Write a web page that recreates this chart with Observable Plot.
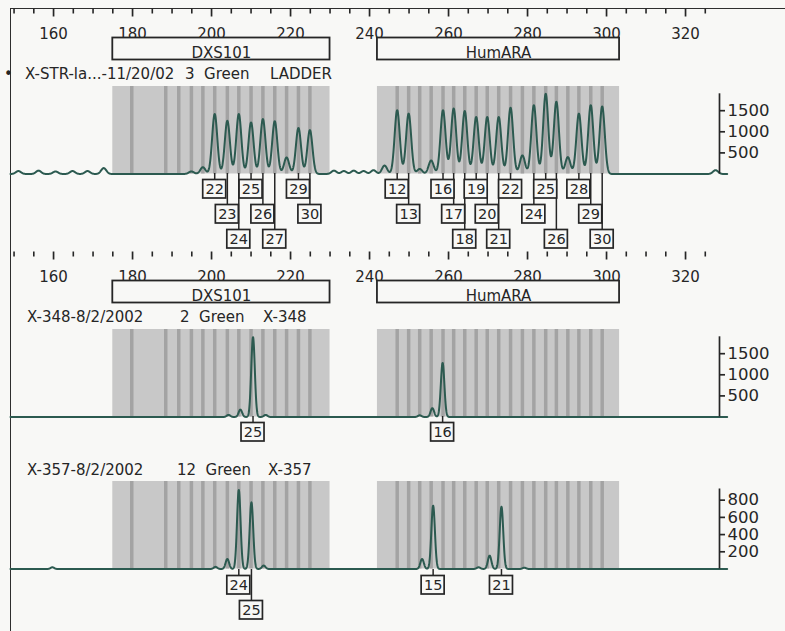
<!DOCTYPE html>
<html><head><meta charset="utf-8">
<script src="https://cdn.jsdelivr.net/npm/d3@7"></script>
<script src="https://cdn.jsdelivr.net/npm/@observablehq/plot@0.6"></script>
<style>
html,body{margin:0;padding:0;background:#f8f8f6;}
#chart{position:relative;width:785px;height:631px;overflow:hidden;font-family:"DejaVu Sans",sans-serif;color:#262626;}
#chart svg{position:absolute;left:0;}
.frame{position:absolute;left:9.5px;top:7.5px;width:790px;height:640px;border-left:1.6px solid #2e2e2e;border-top:1.6px solid #2e2e2e;}
.sample{position:absolute;font-size:15px;line-height:15px;white-space:pre;color:#262626;}
</style></head><body><div id="chart"><div class="frame"></div></div>
<script>
// ---------- data ----------
const xTickLabels = [160,180,200,220,240,260,280,300,320];
const xTickMinor = [150,155,165,170,175,185,190,195,205,210,215,225,230,235,245,250,255,265,270,275,285,290,295,305,310,315,325];

const locusName  = ["DXS101","HumARA"];
const locusStart = [175, 242];
const locusEnd   = [230, 303.3];

const dxs101Bins = [179.8,188.4,191.7,194.9,197.8,200.8,204.0,206.9,210.0,213.0,216.0,219.0,222.0,224.9];
const humaraBins = [247.0,249.9,252.7,255.6,258.6,261.3,264.1,267.0,269.8,272.7,275.7,278.7,281.6,284.6,287.3,290.2,293.0,296.0,298.9];

// Panel 1: allelic ladder
const ladderPeakSize   = [151.1,156.2,160.5,164.8,168.6,172.7,194.9,197.8,200.8,204.0,206.9,210.0,213.0,216.0,219.0,222.0,224.9,231.0,233.5,236.0,238.5,241.0,243.8,247.0,249.9,252.7,255.6,258.6,261.3,264.1,267.0,269.8,272.7,275.7,278.7,281.6,284.6,287.3,290.2,293.0,296.0,298.9,327.6];
const ladderPeakHeight = [70,80,60,70,70,140,60,160,1420,1260,1420,1220,1300,1250,390,1090,1040,80,70,80,70,90,200,1510,1430,120,320,1510,1550,1490,1350,1350,1350,1570,440,1630,1900,1710,400,1430,1630,1600,90];
const ladderCallAllele = ["22","23","24","25","26","27","29","30","12","13","16","17","18","19","20","21","22","24","25","26","28","29","30"];
const ladderCallSize   = [200.8,204.0,206.9,210.0,213.0,216.0,222.0,224.9,247.0,249.9,258.6,261.3,264.1,267.0,269.8,272.7,275.7,281.6,284.6,287.3,293.0,296.0,298.9];

// Panel 2: X-348
const x348PeakSize   = [204.3,207.3,210.5,213.7,252.7,255.9,258.5];
const x348PeakHeight = [50,175,1890,50,40,210,1280];
const x348CallAllele = ["25","16"];
const x348CallSize   = [210.5,258.5];

// Panel 3: X-357
const x357PeakSize   = [159.7,201.0,204.0,206.9,210.1,213.2,253.3,256.1,267.6,270.4,273.4,279.2];
const x357PeakHeight = [20,25,116,918,774,40,116,736,20,155,724,15];
const x357CallAllele = ["24","25","15","21"];
const x357CallSize   = [206.9,210.1,256.1,273.4];

const sampleName = ["X-STR-la...-11/20/02","X-348-8/2/2002","X-357-8/2/2002"];
const sampleDye  = ["3  Green","2  Green","12  Green"];
const sampleId   = ["LADDER","X-348","X-357"];

const rfuTicksHigh = [500,1000,1500];
const rfuTicksLow  = [200,400,600,800];

// ---------- layout / style ----------
const W = 785;
const X_DOMAIN = [149.1, 328.6];
const X_RANGE = [10, 719];
const PX = (X_RANGE[1]-X_RANGE[0])/(X_DOMAIN[1]-X_DOMAIN[0]);
const INK = "#262626", GRAY = "#c8c8c8", STRIPE = "#a3a3a3", TRACE = "#2c5a50", BG = "#f8f8f6";
const FONT = "DejaVu Sans, sans-serif";
const STYLE = {background: "transparent", overflow: "visible", maxWidth: "none", fontFamily: FONT};

const loci = locusName.map((name,i)=>({name, start: locusStart[i], end: locusEnd[i]}));
const allBins = dxs101Bins.concat(humaraBins);

const panels = [
  {top: 8,     header: true,  yMax: 2073, axisTop: 1900, ticks: rfuTicksHigh, sigma: 0.65,
   sizes: ladderPeakSize, heights: ladderPeakHeight, calls: ladderCallAllele, callSize: ladderCallSize,
   textX: [25,185,270], bullet: true},
  {top: 251,   header: true,  yMax: 2073, axisTop: 1900, ticks: rfuTicksHigh, sigma: 0.45,
   sizes: x348PeakSize, heights: x348PeakHeight, calls: x348CallAllele, callSize: x348CallSize,
   textX: [27,180,263]},
  {top: 403.7, header: false, yMax: 1017, axisTop: 930, ticks: rfuTicksLow, sigma: 0.45,
   sizes: x357PeakSize, heights: x357PeakHeight, calls: x357CallAllele, callSize: x357CallSize,
   textX: [27,177,268]}
];

const chart = document.getElementById("chart");
function place(svg, top) { svg.style.top = top + "px"; chart.appendChild(svg); }
function base(height, extra) {
  return Object.assign({width: W, height, marginTop: 0, marginBottom: 0, marginLeft: X_RANGE[0], marginRight: W - X_RANGE[1],
    x: {domain: X_DOMAIN, range: X_RANGE, axis: null}, style: STYLE}, extra);
}
function traceOf(sizes, heights, sigma) {
  const pts = [];
  for (let s = 149.1; s <= 330.6; s += 0.05) {
    let h = 0;
    for (let k = 0; k < sizes.length; k++) {
      const d = s - sizes[k];
      h += heights[k] * Math.exp(-(d*d)/(2*sigma*sigma));
    }
    pts.push({size: s, rfu: h});
  }
  return pts;
}
function assignRows(sizes, minSep) {
  const last = [];
  return sizes.map(s => { let r = 0; while (last[r] !== undefined && s - last[r] < minSep) r++; last[r] = s; return r; });
}

panels.forEach((p, pi) => {
  if (p.header) {
    place(Plot.plot(base(60, {
      marks: [
        Plot.ruleX(xTickMinor, {x: d=>d, stroke: INK, strokeWidth: 1.6, insetTop: 0.5, insetBottom: 54.5}),
        Plot.ruleX(xTickLabels, {x: d=>d, stroke: INK, strokeWidth: 1.7, insetTop: 0.5, insetBottom: 51.5}),
        Plot.text(xTickLabels, {x: d=>d, text: d=>String(d), frameAnchor: "top", dy: 20, fontSize: 15, fill: INK}),
        Plot.rect(loci, {x1: "start", x2: "end", insetTop: 29.5, insetBottom: 8.5, fill: BG, stroke: INK, strokeWidth: 1.8}),
        Plot.text(loci, {x: d=>(d.start+d.end)/2, text: "name", frameAnchor: "top", dy: 39, fontSize: 15, fill: INK})
      ]
    })), p.top);
  }
  const labels = [sampleName[pi], sampleDye[pi], sampleId[pi]];
  labels.forEach((t, i) => {
    const d = document.createElement("div");
    d.className = "sample"; d.textContent = t;
    d.style.left = p.textX[i] + "px"; d.style.top = (p.top + 67 - 8) + "px";
    chart.appendChild(d);
  });
  if (p.bullet) {
    const b = document.createElement("div");
    b.className = "sample"; b.textContent = "\u2022";
    b.style.left = "4px"; b.style.top = (p.top + 67 - 8) + "px";
    chart.appendChild(b);
  }
  const tr = traceOf(p.sizes, p.heights, p.sigma);
  place(Plot.plot(base(95.5, {
    marginTop: 4, marginBottom: 4,
    y: {domain: [0, p.yMax], axis: null},
    marks: [
      Plot.rect(loci, {x1: "start", x2: "end", fill: GRAY}),
      Plot.ruleX(allBins, {x: d=>d, stroke: STRIPE, strokeWidth: 3.5}),
      Plot.line(tr, {x: "size", y: "rfu", stroke: TRACE, strokeWidth: 2}),
      Plot.ruleX([X_DOMAIN[1]], {y1: 0, y2: p.axisTop, stroke: INK, strokeWidth: 1.7}),
      Plot.ruleY(p.ticks, {y: d=>d, x1: X_DOMAIN[1], x2: X_DOMAIN[1] + 6/PX, stroke: INK, strokeWidth: 1.7}),
      Plot.text(p.ticks, {y: d=>d, x: X_DOMAIN[1], dx: 8, text: d=>String(d), textAnchor: "start", fontSize: 16.5, fill: INK})
    ]
  })), p.top + 73.5);
  const rows = assignRows(p.callSize, 28/PX);
  const calls = p.calls.map((a, i) => ({allele: a, size: p.callSize[i], row: rows[i]}));
  const half = 11.5/PX;
  place(Plot.plot(base(80, {
    y: {domain: [0, 3], range: [0, 75], axis: null},
    marks: [
      Plot.ruleX(calls, {x: "size", y1: 0, y2: d=>d.row + 0.5, stroke: INK, strokeWidth: 1.5}),
      Plot.rect(calls, {x1: d=>d.size - half, x2: d=>d.size + half, y1: "row", y2: d=>d.row + 1, insetTop: 6.5, fill: BG, stroke: INK, strokeWidth: 1.7}),
      Plot.text(calls, {x: "size", y: "row", dy: 15.5, text: "allele", fontSize: 14.5, fill: INK})
    ]
  })), p.top + 165);
});
</script></body></html>
